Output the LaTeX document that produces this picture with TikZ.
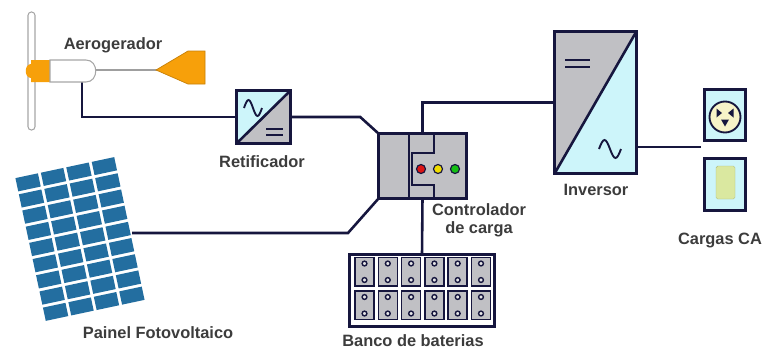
\documentclass[tikz,border=0pt]{standalone}
\usepackage{fontspec}
\setmainfont{Liberation Sans}
\usepackage{tikz}
\usetikzlibrary{positioning}
\definecolor{fio}{RGB}{22,22,62}
\definecolor{ciano}{RGB}{205,245,250}
\definecolor{cinza}{RGB}{192,192,196}
\definecolor{laranja}{RGB}{247,160,10}
\definecolor{painel}{RGB}{35,110,160}
\definecolor{rotcor}{RGB}{60,60,60}
\definecolor{creme}{RGB}{247,243,200}
\definecolor{verde}{RGB}{218,232,160}
\definecolor{ledred}{RGB}{220,20,20}
\definecolor{ledyellow}{RGB}{240,220,0}
\definecolor{ledgreen}{RGB}{20,190,20}

\begin{document}
\begin{tikzpicture}[x=0.3mm, y=-0.3mm,
wire/.style={draw=fio, line width=2.2pt},
box/.style 2 args={rectangle, inner sep=0pt, minimum width=#1*0.3mm, minimum height=#2*0.3mm},
rotulo/.style={font=\bfseries\fontsize{14}{16}\selectfont, text=rotcor, inner sep=0pt, anchor=base},
led/.style={draw=fio, line width=1pt, fill=#1}]
\useasboundingbox (0,0) rectangle (764,350);

% blocos (so as ancoras)
\node [box={53}{52}] (ret) at (263.5,117) {};
\node [box={87}{64}] (ctrl) at (422.5,166) {};
\node [box={81}{141}] (inv) at (595.5,102.5) {};
\node [box={144}{71}] (bat) at (422,290.5) {};
\node [box={40}{50}] (tomada) at (725,115) {};
\node [box={40}{51}] (chave) at (725,184.5) {};
\coordinate (gen) at (82,80);
\coordinate (pv) at (132,233);
\coordinate (carga) at (701,147);

% ligacoes
\draw [wire] (gen) |- (ret.west);
\draw [wire] (ret.east) -- ++(70,0) -- (ctrl.north west);
\draw [wire] (pv) -- ++(216,0) -- (ctrl.south west);
\draw [wire] (ctrl.north) |- (inv.west);
\draw [wire] (ctrl.south) -- (bat.north);
\draw [wire] (inv.east |- carga) -- (carga);

% aerogerador
\draw [fill=white, draw=gray!70, line width=0.9pt, rounded corners=1mm] (28,12) rectangle (35,130);
\draw [line width=2.4pt, gray!75] (95,70) -- (160,70);
\draw [fill=laranja, draw=laranja!80!black, line width=0.6pt] (156,70) -- (188,51) -- (205,51) -- (205,84) -- (188,84) -- cycle;
\fill [laranja] (50,60) -- (31,60) -- (31,64) .. controls (24,64) and (24,78) .. (31,78) -- (31,82) -- (50,82) -- cycle;
\draw [fill=white, draw=gray!70, line width=0.9pt] (50,60) -- (86,60) .. controls (99,60) and (99,82) .. (86,82) -- (50,82) -- cycle;

% retificador
\fill [ciano] (ret.south west) -- (ret.north west) -- (ret.north east) -- cycle;
\fill [cinza] (ret.south west) -- (ret.south east) -- (ret.north east) -- cycle;
\draw [wire] (ret.south west) rectangle (ret.north east);
\draw [wire] (ret.south west) -- (ret.north east);
\draw [wire, line width=1.6pt] (244,108) sin (248.5,100) cos (253,108) sin (257.5,116) cos (262,108);
\draw [wire, line width=1.8pt] (266,129) -- (283,129) (266,135) -- (283,135);

% controlador
\draw [wire, fill=cinza] (ctrl.south west) rectangle (ctrl.north east);
\draw [wire] (409,134) -- (409,198);
\draw [wire] (434,134) -- (434,153) -- (412,153) -- (412,185) -- (434,185) -- (434,198);
\draw [led=ledred] (421,169) circle (4.5);
\draw [led=ledyellow] (438,169) circle (4.5);
\draw [led=ledgreen] (455,169) circle (4.5);

% inversor
\fill [cinza] (inv.south west) -- (inv.north west) -- (inv.north east) -- cycle;
\fill [ciano] (inv.south west) -- (inv.south east) -- (inv.north east) -- cycle;
\draw [wire] (inv.south west) rectangle (inv.north east);
\draw [wire] (inv.south west) -- (inv.north east);
\draw [wire, line width=1.8pt] (565,60) -- (590,60) (565,67) -- (590,67);
\draw [wire, line width=1.6pt] (599,149) sin (604.5,140) cos (610,149) sin (615.5,158) cos (621,149);

% baterias
\draw [wire, fill=white] (bat.south west) rectangle (bat.north east);
\foreach \i in {0,...,5} {
  \foreach \y in {257.5,291} {
    \draw [draw=fio, line width=1.3pt, fill=cinza] ({355+23.3*\i},\y) rectangle ++(19,28.5);
    \draw [draw=fio, line width=1.2pt, fill=cinza!40] ({364.5+23.3*\i},{\y+6}) circle (2.4);
    \draw [draw=fio, line width=1.2pt, fill=cinza!40] ({364.5+23.3*\i},{\y+22.5}) circle (2.4);
  }
}

% cargas
\draw [wire, fill=ciano] (tomada.south west) rectangle (tomada.north east);
\draw [draw=fio, line width=1.6pt, fill=creme] (725,117) circle (15.5);
\fill [fio] (716.5,108.5) -- (722,113) -- (716.5,117.5) -- cycle;
\fill [fio] (733.5,108.5) -- (728,113) -- (733.5,117.5) -- cycle;
\fill [fio] (721,119.5) -- (729,119.5) -- (725,126.5) -- cycle;
\draw [wire, fill=ciano] (chave.south west) rectangle (chave.north east);
\draw [fill=verde, draw=verde!80!black, rounded corners=0.5mm] (716,166) rectangle (735,199);

% painel
\begin{scope}[shift={(80,239)}, rotate=12]
\foreach \i in {0,...,3}
  \foreach \j in {0,...,8}
    \fill [painel] ({-52+26*\i+1.5},{-74.5+16.55*\j+1.5}) rectangle ++(23,13.55);
\end{scope}

% rotulos
\node [rotulo] (aeroTxt) at (113,49) {Aerogerador};
\node [rotulo] (retTxt) at (262,167) {Retificador};
\node [rotulo, align=center, anchor=north] (ctrlTxt) at (479,203) {Controlador\\de carga};
\node [rotulo] (invTxt) at (596,195) {Inversor};
\node [rotulo] (cargaTxt) at (720,244) {Cargas CA};
\node [rotulo] (batTxt) at (413,346) {Banco de baterias};
\node [rotulo] (pvTxt) at (158,338) {Painel Fotovoltaico};
\end{tikzpicture}
\end{document}
